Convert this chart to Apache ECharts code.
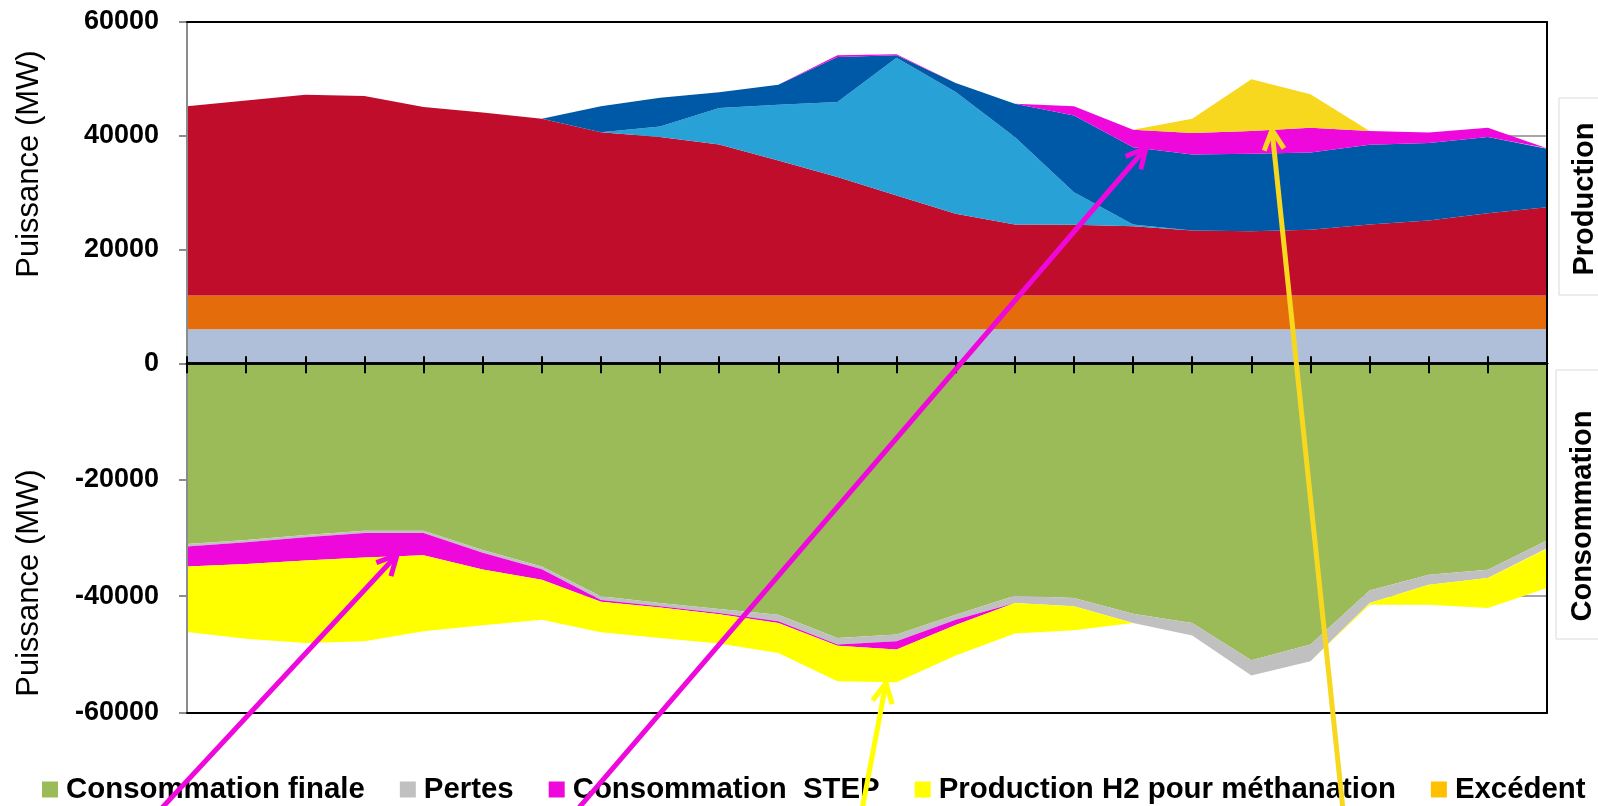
<!DOCTYPE html>
<html>
<head>
<meta charset="utf-8">
<script src="https://cdn.jsdelivr.net/npm/echarts@6.0.0/dist/echarts.min.js"></script>
<style>
    html, body {margin: 0; padding: 0; background: #fff;}
    #mix {width: 1598px; height: 806px;}
</style>
</head>
<body>
<div id="mix"></div>
<script>
// heures de la journee
var hours = ['0','1','2','3','4','5','6','7','8','9','10','11','12','13','14','15','16','17','18','19','20','21','22','23'];

// production (MW), empilée de bas en haut
var prodBase = [6000,6000,6000,6000,6000,6000,6000,6000,6000,6000,6000,6000,6000,6000,6000,6000,6000,6000,6000,6000,6000,6000,6000,6000];
var prodOrange = [5900,5900,5900,5900,5900,5900,5900,5900,5900,5900,5900,5900,5900,5900,5900,5900,5900,5900,5900,5900,5900,5900,5900,5900];
var prodRouge = [33270,34320,35330,35080,33140,32210,31100,28700,27870,26580,23770,20830,17610,14390,12500,12450,12200,11450,11330,11570,12500,13210,14500,15550];
var prodBleuClair = [0,0,0,0,0,0,0,0,1880,6390,9790,13200,24220,21390,15370,5740,300,0,0,0,0,0,0,0];
var prodBleuFonce = [0,0,0,0,0,0,0,4570,5050,2760,3520,7920,410,1590,5870,13490,13600,13370,13610,13600,14030,13600,13370,10270];
var prodStep = [0,0,0,0,0,0,0,0,0,0,0,300,200,0,0,1590,3060,3750,3980,4340,2390,1880,1640,100];
var prodOr = [0,0,0,0,0,0,0,0,0,0,0,0,0,0,0,0,0,2530,9100,5870,0,0,0,0];

// consommation (MW), valeurs negatives
var consFinale = [-31020,-30340,-29480,-28740,-28740,-32050,-34900,-40000,-41170,-42200,-43170,-47160,-46590,-43170,-39920,-40310,-43000,-44590,-50990,-48300,-39010,-36320,-35470,-30450];
var consPertes = [-450,-400,-400,-400,-400,-500,-450,-650,-570,-680,-1140,-1140,-1140,-850,-1250,-1430,-1590,-2170,-2610,-2860,-2160,-1710,-1420,-1310];
var consStep = [-3420,-3710,-3990,-4210,-3810,-2860,-1830,-280,-200,-200,-280,-200,-1430,-900,0,0,0,0,0,0,0,0,0,-100];
var consH2 = [-11240,-12830,-14140,-14380,-13070,-9590,-6840,-5270,-5220,-5050,-5140,-6080,-5590,-5270,-5250,-4110,0,0,0,0,-290,-3430,-5130,-6740];
var consExcedent = [0,0,0,0,0,0,0,0,0,0,0,0,0,0,0,0,0,0,0,0,0,0,0,0];

// y ticks
var prodTicks = [0, 60000, 20000];
var consTicks = [-60000, 0, 20000];

var FONT = '"Liberation Sans", Arial, sans-serif';

function area(name, data, color, grid, stack) {
    return {
        name: name,
        type: 'line',
        xAxisIndex: grid == 0 ? 0 : 2,
        yAxisIndex: grid == 0 ? 0 : 3,
        stack: stack,
        data: data,
        symbol: 'none',
        showSymbol: false,
        lineStyle: {width: 0, opacity: 0},
        itemStyle: {color: color},
        areaStyle: {color: color, opacity: 1},
        emphasis: {disabled: true},
        silent: true
    };
}

// fleches d'annotation (pixels)
function arrow(tail, tip, color) {
    var a = Math.atan2(tail[1] - tip[1], tail[0] - tip[0]);
    var len = 22, da = 0.47;
    var p1 = [tip[0] + len * Math.cos(a - da), tip[1] + len * Math.sin(a - da)];
    var p2 = [tip[0] + len * Math.cos(a + da), tip[1] + len * Math.sin(a + da)];
    return [{
        type: 'line', z: 100,
        shape: {x1: tail[0], y1: tail[1], x2: tip[0], y2: tip[1]},
        style: {stroke: color, lineWidth: 5}
    }, {
        type: 'polyline', z: 100,
        shape: {points: [p1, tip, p2]},
        style: {stroke: color, lineWidth: 5, fill: null}
    }];
}

var boxText = function (text, x, y) {
    return {
        type: 'text', z: 50, x: x, y: y, rotation: Math.PI / 2,
        style: {text: text, font: 'bold 29px ' + FONT, fill: '#000',
            textAlign: 'center', textVerticalAlign: 'middle', align: 'center', verticalAlign: 'middle'}
    };
};
var axisTitle = function (x, y) {
    return {
        type: 'text', z: 50, x: x, y: y, rotation: Math.PI / 2,
        style: {text: 'Puissance (MW)', font: 'normal 31px ' + FONT, fill: '#000',
            textAlign: 'center', textVerticalAlign: 'middle', align: 'center', verticalAlign: 'middle'}
    };
};

var graphics = [
    {type: 'rect', z: 40, shape: {x: 1559, y: 98, width: 60, height: 197}, style: {fill: '#fff', stroke: '#D9D9D9', lineWidth: 1}},
    {type: 'rect', z: 40, shape: {x: 1556, y: 370, width: 60, height: 269}, style: {fill: '#fff', stroke: '#D9D9D9', lineWidth: 1}},
    boxText('Production', 1585, 199),
    boxText('Consommation', 1583, 516),
    axisTitle(29, 164),
    axisTitle(29, 583)
];
graphics = graphics
    .concat(arrow([160, 810], [397, 555], '#EE08DC'))
    .concat(arrow([577, 810], [1146, 148], '#EE08DC'))
    .concat(arrow([862, 810], [886, 683], '#FFFF00'))
    .concat(arrow([1343, 810], [1272, 130], '#F7D81E'));

function valueAxis(grid, ticks, pos, kind) {
    var ax = {
        type: 'value', gridIndex: grid, position: pos,
        min: ticks[0], max: ticks[1], interval: ticks[2],
        axisLine: {show: false}, axisTick: {show: false},
        axisLabel: {show: false}, splitLine: {show: false}
    };
    if (kind == 'label') {
        ax.z = 5;
        ax.axisLine = {show: true, lineStyle: {color: '#8C8C8C', width: 2}};
        ax.axisTick = {show: true, length: 8, lineStyle: {color: '#8C8C8C', width: 2}};
        ax.axisLabel = {
            show: true, margin: 28, fontSize: 27, fontWeight: 'bold', color: '#000', fontFamily: FONT,
            formatter: function (v) { return (grid == 1 && v == 0) ? '' : String(v); }
        };
    } else if (kind == 'border') {
        ax.z = 5;
        ax.axisLine = {show: true, lineStyle: {color: '#000', width: 2}};
    } else {
        ax.splitLine = {show: true, lineStyle: {color: '#A6A6A6', width: 2}};
    }
    return ax;
}

function catAxis(grid, pos, tickLen, lineWidth) {
    return {
        type: 'category', gridIndex: grid, position: pos, data: hours, boundaryGap: false, z: 6,
        axisLine: {show: true, onZero: false, lineStyle: {color: '#000', width: lineWidth}},
        axisTick: {show: tickLen > 0, inside: true, length: tickLen, interval: 0, lineStyle: {color: '#000', width: 2}},
        axisLabel: {show: false},
        splitLine: {show: false}
    };
}

var chart = echarts.init(document.getElementById('mix'));

var option = {
    animation: false,
    backgroundColor: '#fff',
    grid: [
        {left: 187, top: 22, width: 1360, height: 341.3},
        {left: 187, top: 363.3, width: 1360, height: 349.4}
    ],
    legend: {
        data: ['Consommation finale', 'Pertes', 'Consommation  STEP', 'Production H2 pour méthanation', 'Excédent'],
        left: 42, top: 775, padding: 0,
        icon: 'rect', itemWidth: 16, itemHeight: 16, itemGap: 35,
        selectedMode: false,
        textStyle: {fontSize: 29.4, fontWeight: 'bold', color: '#000', fontFamily: FONT, padding: [0, 0, 0, 3]}
    },
    xAxis: [
        catAxis(0, 'bottom', 7, 2.5),
        catAxis(0, 'top', 0, 2),
        catAxis(1, 'top', 10, 2.5),
        catAxis(1, 'bottom', 0, 2)
    ],
    yAxis: [
        valueAxis(0, prodTicks, 'left', 'label'),
        valueAxis(0, prodTicks, 'right', 'border'),
        valueAxis(0, prodTicks, 'left', 'split'),
        valueAxis(1, consTicks, 'left', 'label'),
        valueAxis(1, consTicks, 'right', 'border'),
        valueAxis(1, consTicks, 'left', 'split')
    ],
    graphic: graphics,
    series: [
        area('Hydraulique', prodBase, '#AFBED9', 0, 'prod'),
        area('Thermique', prodOrange, '#E46C0A', 0, 'prod'),
        area('Nucléaire', prodRouge, '#C00D2C', 0, 'prod'),
        area('Photovoltaïque', prodBleuClair, '#28A2D6', 0, 'prod'),
        area('Eolien', prodBleuFonce, '#0059A6', 0, 'prod'),
        area('Production STEP', prodStep, '#EE08DC', 0, 'prod'),
        area('Déstockage', prodOr, '#F7D81E', 0, 'prod'),
        area('Consommation finale', consFinale, '#9BBB59', 1, 'cons'),
        area('Pertes', consPertes, '#C0C0C0', 1, 'cons'),
        area('Consommation  STEP', consStep, '#EE08DC', 1, 'cons'),
        area('Production H2 pour méthanation', consH2, '#FFFF00', 1, 'cons'),
        area('Excédent', consExcedent, '#FFC000', 1, 'cons')
    ]
};

chart.setOption(option);
</script>
</body>
</html>
